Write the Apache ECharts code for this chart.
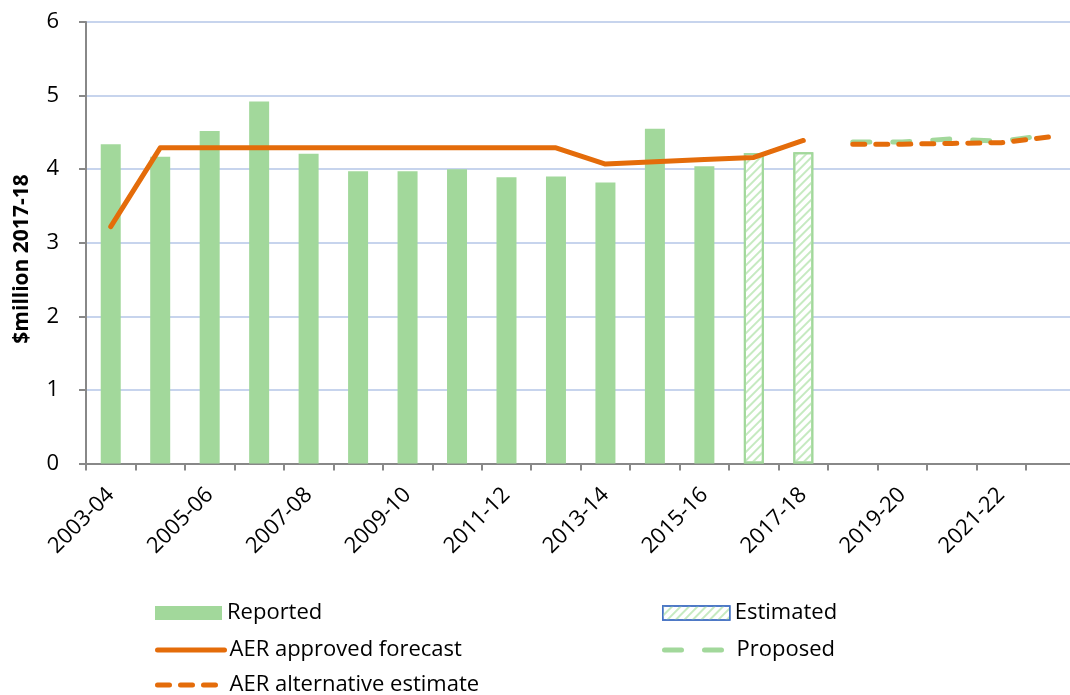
<!DOCTYPE html>
<html>
<head>
<meta charset="utf-8">
<script src="https://cdn.jsdelivr.net/npm/echarts@6/dist/echarts.min.js"></script>
<style>
  html, body { margin: 0; padding: 0; background: #fff; }
  #chart { width: 1070px; height: 695px; }
</style>
</head>
<body>
<div id="chart"></div>
<script>
// Financial years shown on the category axis
const years = [
  '2003-04', '2004-05', '2005-06', '2006-07', '2007-08', '2008-09', '2009-10',
  '2010-11', '2011-12', '2012-13', '2013-14', '2014-15', '2015-16', '2016-17',
  '2017-18', '2018-19', '2019-20', '2020-21', '2021-22', '2022-23'
];

// $million 2017-18
const reported = [4.34, 4.17, 4.52, 4.92, 4.21, 3.97, 3.97, 4.00, 3.89, 3.90,
  3.82, 4.55, 4.04, null, null, null, null, null, null, null];
const estimated = [null, null, null, null, null, null, null, null, null, null,
  null, null, null, 4.22, 4.23, null, null, null, null, null];
const approvedForecast = [3.22, 4.29, 4.29, 4.29, 4.29, 4.29, 4.29, 4.29, 4.29, 4.29,
  4.07, 4.10, 4.13, 4.16, 4.39, null, null, null, null, null];
const proposed = [null, null, null, null, null, null, null, null, null, null,
  null, null, null, null, null, 4.37, 4.37, 4.41, 4.38, 4.47];
const alternativeEstimate = [null, null, null, null, null, null, null, null, null, null,
  null, null, null, null, null, 4.34, 4.34, 4.35, 4.36, 4.44];

const yAxisTitle = '$million 2017-18';

const FONT = 'Open Sans';
const GREEN = '#A2D89B';
const ORANGE = '#E46C0A';
const ALT_DASH = [12, 11];
const PROPOSED_DASH = [17, 23];

const chart = echarts.init(document.getElementById('chart'), null, { renderer: 'canvas' });

const legendText = { fontFamily: FONT, fontSize: 22, color: '#000' };

// One legend block per entry so each row sits where it should
function legendItem(left, centerY, item) {
  return {
    orient: 'vertical', left: left, top: centerY - 12, padding: 0,
    itemWidth: 67, itemHeight: 14, itemGap: 0,
    selectedMode: false,
    textStyle: legendText,
    data: [item]
  };
}

const hiddenSymbol = { opacity: 0, borderWidth: 0 };

chart.setOption({
  animation: false,
  textStyle: { fontFamily: FONT },
  grid: {
    left: 86, top: 22, width: 989.4, height: 441.5,
    containLabel: false, outerBoundsMode: 'none'
  },
  // Vertical value-axis title
  graphic: [{
    type: 'text',
    x: 22, y: 259,
    rotation: Math.PI / 2,
    style: {
      text: yAxisTitle,
      font: 'bold 21px "Open Sans"',
      fill: '#000',
      align: 'center',
      verticalAlign: 'middle'
    }
  }],
  legend: [
    legendItem(155, 614, { name: 'Reported', icon: 'rect' }),
    legendItem(155, 651, {
      name: 'AER approved forecast', itemStyle: hiddenSymbol,
      lineStyle: { width: 5, color: ORANGE, cap: 'round', type: 'solid' }
    }),
    legendItem(155, 686, {
      name: 'AER alternative estimate', itemStyle: hiddenSymbol,
      lineStyle: { width: 5, color: ORANGE, cap: 'round', type: ALT_DASH }
    }),
    legendItem(662, 614, {
      name: 'Estimated', icon: 'rect',
      itemStyle: { borderColor: '#4472C4', borderWidth: 1.5 }
    }),
    legendItem(662, 651, {
      name: 'Proposed', itemStyle: hiddenSymbol,
      lineStyle: { width: 5, color: GREEN, cap: 'round', type: PROPOSED_DASH }
    })
  ],
  xAxis: {
    type: 'category',
    data: years,
    boundaryGap: true,
    axisLine: { lineStyle: { color: '#888', width: 2 } },
    axisTick: { show: true, interval: 0, length: 7, lineStyle: { color: '#888', width: 2 } },
    axisLabel: {
      interval: 1, rotate: 45, color: '#000', fontFamily: FONT, fontSize: 22, margin: 28
    },
    splitLine: { show: false }
  },
  yAxis: {
    type: 'value',
    min: 0, max: 6, interval: 1,
    axisLine: { show: true, lineStyle: { color: '#888', width: 2 } },
    axisTick: { show: true, length: 7, lineStyle: { color: '#888', width: 2 } },
    axisLabel: { color: '#000', fontFamily: FONT, fontSize: 22, margin: 27 },
    splitLine: { lineStyle: { color: '#B4C6E7', width: 1.5 } }
  },
  series: [
    {
      name: 'Reported', type: 'bar', data: reported, barWidth: 20, barGap: '-100%',
      itemStyle: { color: GREEN }
    },
    {
      name: 'Estimated', type: 'bar', data: estimated, barWidth: 20,
      itemStyle: {
        color: '#ffffff', borderColor: GREEN, borderWidth: 2,
        decal: {
          symbol: 'rect', symbolSize: 1, color: '#C6EAC1',
          dashArrayX: [1, 0], dashArrayY: [2, 4], rotation: -Math.PI / 4
        }
      }
    },
    {
      name: 'AER approved forecast', type: 'line', data: approvedForecast,
      symbol: 'none', connectNulls: false,
      lineStyle: { color: ORANGE, width: 5, cap: 'round', join: 'round' },
      itemStyle: { color: ORANGE }
    },
    {
      name: 'Proposed', type: 'line', data: proposed,
      symbol: 'none',
      lineStyle: { color: GREEN, width: 5, type: PROPOSED_DASH, cap: 'round' },
      itemStyle: { color: GREEN }
    },
    {
      name: 'AER alternative estimate', type: 'line', data: alternativeEstimate,
      symbol: 'none',
      lineStyle: { color: ORANGE, width: 5, type: ALT_DASH, cap: 'round' },
      itemStyle: { color: ORANGE }
    }
  ]
});
</script>
</body>
</html>
